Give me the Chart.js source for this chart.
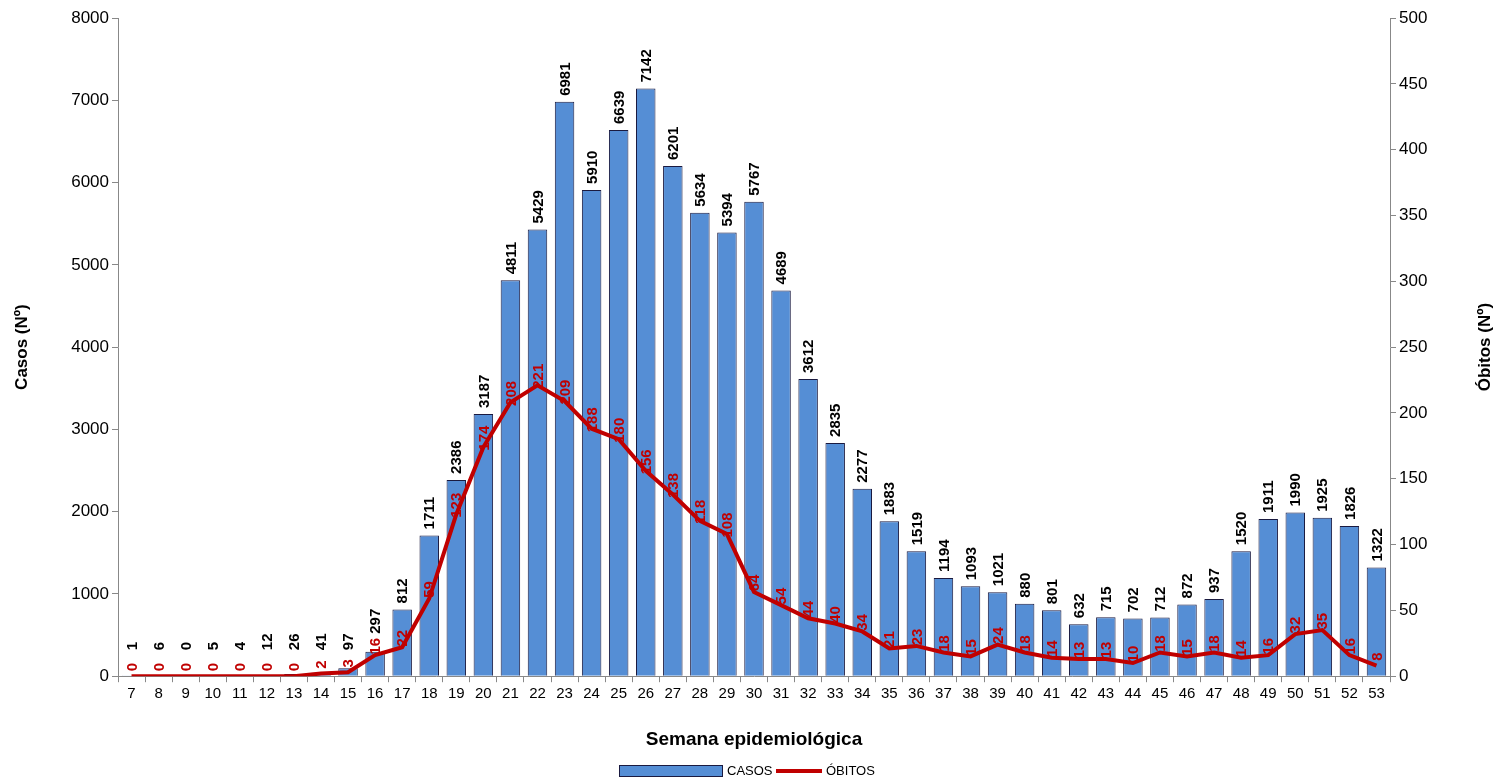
<!DOCTYPE html>
<html><head><meta charset="utf-8">
<script src="https://cdn.jsdelivr.net/npm/chart.js@4"></script>
<style>html,body{margin:0;background:#fff}#w{width:1494px;height:781px}</style>
</head><body><div id="w"><canvas id="c"></canvas></div>
<script>
const semanas = [7,8,9,10,11,12,13,14,15,16,17,18,19,20,21,22,23,24,25,26,27,28,29,30,31,32,33,34,35,36,37,38,39,40,41,42,43,44,45,46,47,48,49,50,51,52,53].map(String);
const casos = [1,6,0,5,4,12,26,41,97,297,812,1711,2386,3187,4811,5429,6981,5910,6639,7142,6201,5634,5394,5767,4689,3612,2835,2277,1883,1519,1194,1093,1021,880,801,632,715,702,712,872,937,1520,1911,1990,1925,1826,1322];
const obitos = [0,0,0,0,0,0,0,2,3,16,22,59,123,174,208,221,209,188,180,156,138,118,108,64,54,44,40,34,21,23,18,15,24,18,14,13,13,10,18,15,18,14,16,32,35,16,8];
const FONT = "'Liberation Sans', Arial, sans-serif";
const BAR='#558ED5', BARB='#1a1a40', RED='#C00000';
const labelsPlugin = {
  id:'lbl',
  afterDatasetsDraw(chart){
    const ctx = chart.ctx;
    ctx.save();
    ctx.font = "bold 15px " + FONT;
    const bars = chart.getDatasetMeta(1).data;
    const pts = chart.getDatasetMeta(0).data;
    const a = chart.chartArea;
    bars.forEach((b,i)=>{
      const p = pts[i];
      const w = ctx.measureText(String(obitos[i])).width;
      const oTop = p.y-9-w/2;
      let y = Math.min(b.y-6, a.bottom-26);
      if (y > oTop-4 && b.y-6 > oTop-40) y = Math.min(y, oTop-4);
      ctx.save(); ctx.translate(b.x+1, y); ctx.rotate(-Math.PI/2);
      ctx.fillStyle='#000'; ctx.textAlign='left'; ctx.textBaseline='middle';
      ctx.fillText(String(casos[i]),0,0); ctx.restore();
    });
    pts.forEach((p,i)=>{
      ctx.save(); ctx.translate(p.x+1, p.y-9); ctx.rotate(-Math.PI/2);
      ctx.fillStyle=RED; ctx.textAlign='center'; ctx.textBaseline='middle';
      ctx.fillText(String(obitos[i]),0,0); ctx.restore();
    });
    ctx.save(); ctx.translate(1485, (a.top+a.bottom)/2); ctx.rotate(-Math.PI/2);
    ctx.font="bold 17px "+FONT; ctx.fillStyle='#000'; ctx.textAlign='center'; ctx.textBaseline='middle';
    ctx.fillText('Óbitos (Nº)',0,0); ctx.restore();
    const ly = 771;
    ctx.fillStyle=BAR; ctx.fillRect(619,ly-6,104,12);
    ctx.strokeStyle=BARB; ctx.lineWidth=1; ctx.strokeRect(619.5,ly-5.5,103,11);
    ctx.font="13px "+FONT; ctx.fillStyle='#000'; ctx.textBaseline='middle'; ctx.textAlign='left';
    ctx.fillText('CASOS',727,ly);
    ctx.strokeStyle=RED; ctx.lineWidth=4; ctx.beginPath(); ctx.moveTo(776,ly); ctx.lineTo(822,ly); ctx.stroke();
    ctx.fillText('ÓBITOS',826,ly);
    ctx.restore();
  }
};
new Chart(document.getElementById('c'),{
  data:{labels:semanas,datasets:[
    {type:'line',label:'ÓBITOS',data:obitos,yAxisID:'y2',borderColor:RED,backgroundColor:RED,borderWidth:4,pointRadius:0,tension:0,order:0},
    {type:'bar',label:'CASOS',data:casos,yAxisID:'y',backgroundColor:BAR,borderColor:BARB,borderWidth:1,categoryPercentage:1,barPercentage:0.72,order:1}
  ]},
  plugins:[labelsPlugin],
  options:{
    responsive:true,maintainAspectRatio:false,animation:false,
    layout:{padding:{top:18,right:38,left:8,bottom:30}},
    plugins:{legend:{display:false},tooltip:{enabled:false}},
    scales:{
      x:{grid:{display:true,drawOnChartArea:false,offset:true,color:'#888',tickLength:6},border:{color:'#888'},
         ticks:{font:{family:FONT,size:15},color:'#000',maxRotation:0,autoSkip:false},
         title:{display:true,text:'Semana epidemiológica',font:{family:FONT,size:19,weight:'bold'},color:'#000',padding:{top:22,bottom:0}}},
      y:{position:'left',min:0,max:8000,grid:{display:true,drawOnChartArea:false,color:'#888',tickLength:6},border:{color:'#888'},
         afterFit(s){s.width=110;},
         ticks:{stepSize:1000,font:{family:FONT,size:17},color:'#000',callback:v=>String(v)},
         title:{display:true,text:'Casos (Nº)',font:{family:FONT,size:17,weight:'bold'},color:'#000'}},
      y2:{position:'right',min:0,max:500,grid:{display:true,drawOnChartArea:false,color:'#888',tickLength:6},border:{color:'#888'},
         afterFit(s){s.width=66;},
         ticks:{stepSize:50,font:{family:FONT,size:17},color:'#000',callback:v=>String(v)}}
    }
  }
});
</script></body></html>
